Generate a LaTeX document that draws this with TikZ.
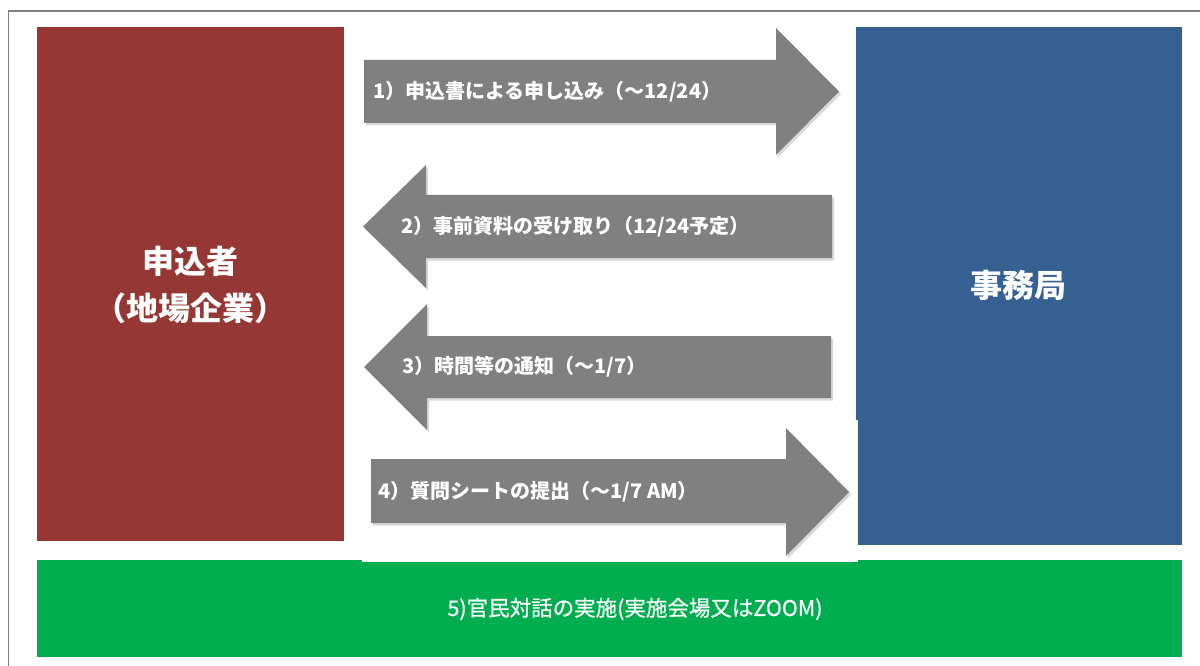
\documentclass[tikz,border=0pt]{standalone}
\usepackage{fontspec}
\newfontfamily\jp{Noto Sans CJK JP}
\newfontfamily\jpm{Noto Sans CJK JP}[FakeBold=0.6]
\usetikzlibrary{shadows}
\definecolor{redbox}{HTML}{953735}
\definecolor{bluebox}{HTML}{376092}
\definecolor{greenbox}{HTML}{00AE50}
\definecolor{arrowgray}{HTML}{808080}
\definecolor{framegray}{HTML}{7F7F7F}
\begin{document}
\begin{tikzpicture}[x=1pt,y=-1pt,
  arrowshape/.style={fill=arrowgray, drop shadow={opacity=0.3, shadow xshift=2pt, shadow yshift=-2.5pt}},
  arrowtext/.style={anchor=west, inner sep=0pt, text=white, font=\jp\bfseries\fontsize{20}{23}\selectfont},
  bigtext/.style={text=white, inner sep=0pt, align=center, font=\jp\bfseries\fontsize{32}{47}\selectfont},
  greentext/.style={text=white, inner sep=0pt, font=\jpm\fontsize{21.5}{25}\selectfont}]
\useasboundingbox (0,0) rectangle (1200,666);
\clip (0,0) rectangle (1200,666);
\draw[framegray, line width=1.6pt] (8.5,11) rectangle (1230,700);
% boxes
\fill[redbox] (37,27) rectangle (344,541);
\fill[bluebox] (856,27) rectangle (1182,545);
\fill[greenbox] (37,560) rectangle (1182,657);
\fill[white] (362,420) rectangle (858,562);
\node[bigtext] (applicant) at (190.5,285) {申込者\\（地場企業）};
\node[bigtext] (office) at (1018,285) {事務局};
\node[greentext] (dialogue) at (635,609) {5)官民対話の実施(実施会場又はZOOM)};
% arrows
\path[arrowshape] (364,60) -- (776,60) -- (776,28) -- (839,91.5) -- (776,155) -- (776,123) -- (364,123) -- cycle;
\path[arrowshape] (832,195) -- (426,195) -- (426,165) -- (363,226.5) -- (426,288) -- (426,258) -- (832,258) -- cycle;
\path[arrowshape] (831,336) -- (427,336) -- (427,304) -- (364,367) -- (427,430) -- (427,398) -- (831,398) -- cycle;
\path[arrowshape] (371,459) -- (786,459) -- (786,428) -- (849,492) -- (786,556) -- (786,523) -- (371,523) -- cycle;
\node[arrowtext] (step1) at (373,92) {1）申込書による申し込み（～12/24）};
\node[arrowtext] (step2) at (401,227) {2）事前資料の受け取り（12/24予定）};
\node[arrowtext] (step3) at (402,367) {3）時間等の通知（～1/7）};
\node[arrowtext] (step4) at (378,492) {4）質問シートの提出（～1/7 AM）};
\end{tikzpicture}
\end{document}
